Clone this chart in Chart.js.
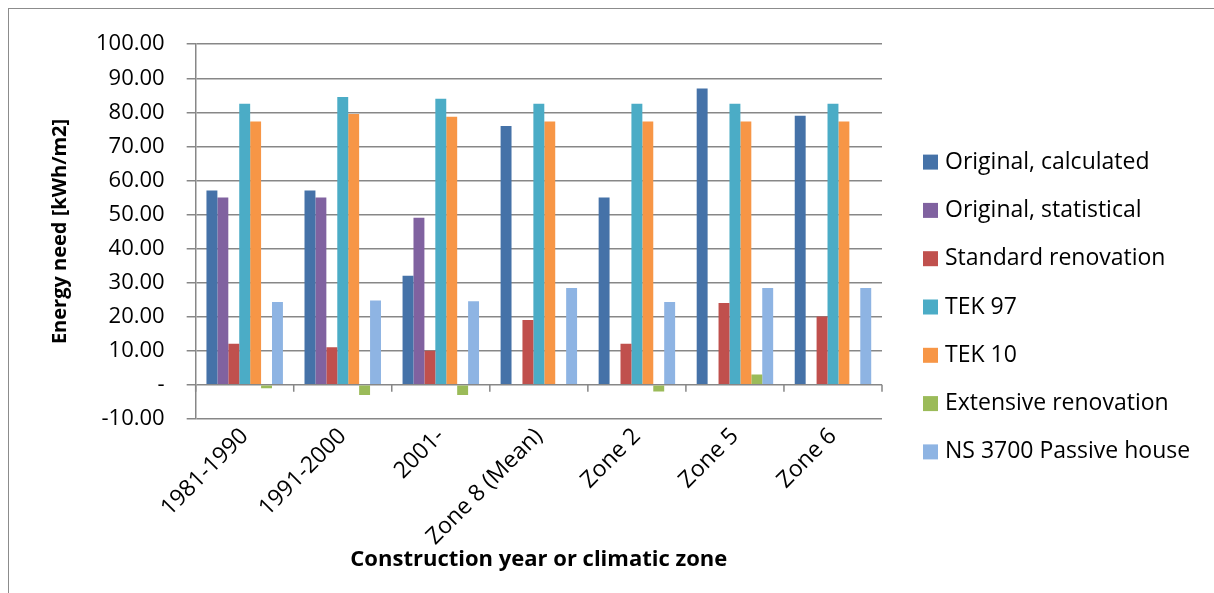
<!DOCTYPE html>
<html>
<head>
<meta charset="utf-8">
<script src="https://cdn.jsdelivr.net/npm/chart.js@4/dist/chart.umd.min.js"></script>
<style>
  html, body { margin: 0; padding: 0; background: #fff; }
  #frame {
    position: absolute; left: 8px; top: 8px;
    width: 1220px; height: 600px;
    border-left: 1px solid #8c8c8c; border-top: 1px solid #8c8c8c;
  }
  #chart { display: block; }
</style>
</head>
<body>
<div id="frame"><canvas id="chart" width="1205" height="584"></canvas></div>
<script>
"use strict";

const categories = ["1981-1990", "1991-2000", "2001-", "Zone 8 (Mean)", "Zone 2", "Zone 5", "Zone 6"];

const originalCalculated = [57, 57, 32, 76, 55, 87, 79];
const originalStatistical = [55, 55, 49, null, null, null, null];
const standardRenovation = [12, 11, 10, 19, 12, 24, 20];
const tek97 = [82.5, 84.5, 84, 82.5, 82.5, 82.5, 82.5];
const tek10 = [77.3, 79.5, 78.7, 77.3, 77.3, 77.3, 77.3];
const extensiveRenovation = [-1, -3, -3, null, -2, 3, null];
const passiveHouse = [24.3, 24.7, 24.5, 28.4, 24.3, 28.4, 28.4];

const seriesNames = [
  "Original, calculated", "Original, statistical", "Standard renovation",
  "TEK 97", "TEK 10", "Extensive renovation", "NS 3700 Passive house"
];
const seriesColors = ["#4572a8", "#8062a0", "#c0504d", "#4bacc6", "#f79646", "#9bbb59", "#8eb4e3"];

const yTicks = [-10, 0, 10, 20, 30, 40, 50, 60, 70, 80, 90, 100];

const fontFamily = "'Open Sans', sans-serif";
const gridGray = "#878787";

// short tick marks along the zero line between categories
const zeroTicks = {
  id: "zeroTicks",
  afterDatasetsDraw(chart) {
    const x = chart.scales.x, y = chart.scales.y;
    const y0 = y.getPixelForValue(0);
    const ctx = chart.ctx;
    const step = (x.right - x.left) / categories.length;
    ctx.save();
    ctx.strokeStyle = gridGray;
    ctx.lineWidth = 1.5;
    ctx.beginPath();
    for (let i = 0; i <= categories.length; i++) {
      const px = x.left + i * step;
      ctx.moveTo(px, y0);
      ctx.lineTo(px, y0 + 7);
    }
    ctx.stroke();
    ctx.restore();
  }
};

// legend drawn by hand so the spacing follows the Excel one
const sideLegend = {
  id: "sideLegend",
  afterDraw(chart) {
    const ctx = chart.ctx;
    const sets = chart.data.datasets;
    const rowGap = 48.3;
    const x0 = chart.chartArea.right + 41;
    const yMid = chart.height / 2 + 6;
    const yStart = yMid - rowGap * (sets.length - 1) / 2;
    ctx.save();
    ctx.font = "23px " + fontFamily;
    ctx.textBaseline = "middle";
    ctx.textAlign = "left";
    sets.forEach((ds, i) => {
      const y = yStart + i * rowGap;
      ctx.fillStyle = ds.backgroundColor;
      ctx.fillRect(x0, y - 7.5, 15, 15);
      ctx.fillStyle = "#000";
      ctx.fillText(ds.label, x0 + 22, y);
    });
    ctx.restore();
  }
};

const datasets = [originalCalculated, originalStatistical, standardRenovation, tek97, tek10, extensiveRenovation, passiveHouse]
  .map((data, i) => ({
    label: seriesNames[i],
    data,
    backgroundColor: seriesColors[i],
    borderWidth: 0,
    categoryPercentage: 0.78,
    barPercentage: 1.0
  }));

new Chart(document.getElementById("chart"), {
  type: "bar",
  data: { labels: categories, datasets },
  plugins: [zeroTicks, sideLegend],
  options: {
    responsive: false,
    animation: false,
    layout: { padding: { top: 20, right: 332, bottom: 20, left: 39 } },
    plugins: {
      tooltip: { enabled: false },
      legend: { display: false }
    },
    scales: {
      x: {
        grid: { display: false },
        border: { display: false },
        ticks: {
          color: "#000",
          font: { family: fontFamily, size: 23 },
          maxRotation: 45,
          minRotation: 45,
          padding: -4
        },
        title: {
          display: true,
          text: "Construction year or climatic zone",
          color: "#000",
          font: { family: fontFamily, size: 22, weight: "bold" },
          padding: { top: 0, bottom: 0 }
        }
      },
      y: {
        min: -10,
        max: 100,
        afterBuildTicks(axis) { axis.ticks = yTicks.map(v => ({ value: v })); },
        grid: {
          color: gridGray,
          lineWidth: 1.5,
          tickLength: 9,
          drawTicks: true
        },
        border: { display: true, color: gridGray, width: 1.5 },
        ticks: {
          color: "#000",
          font: { family: fontFamily, size: 22 },
          padding: 22,
          callback: v => (v === 0 ? "-" : v.toFixed(2))
        },
        title: {
          display: true,
          text: "Energy need [kWh/m2]",
          color: "#000",
          font: { family: fontFamily, size: 20, weight: "bold" },
          padding: { top: 0, bottom: 2 }
        }
      }
    }
  }
});
</script>
</body>
</html>
